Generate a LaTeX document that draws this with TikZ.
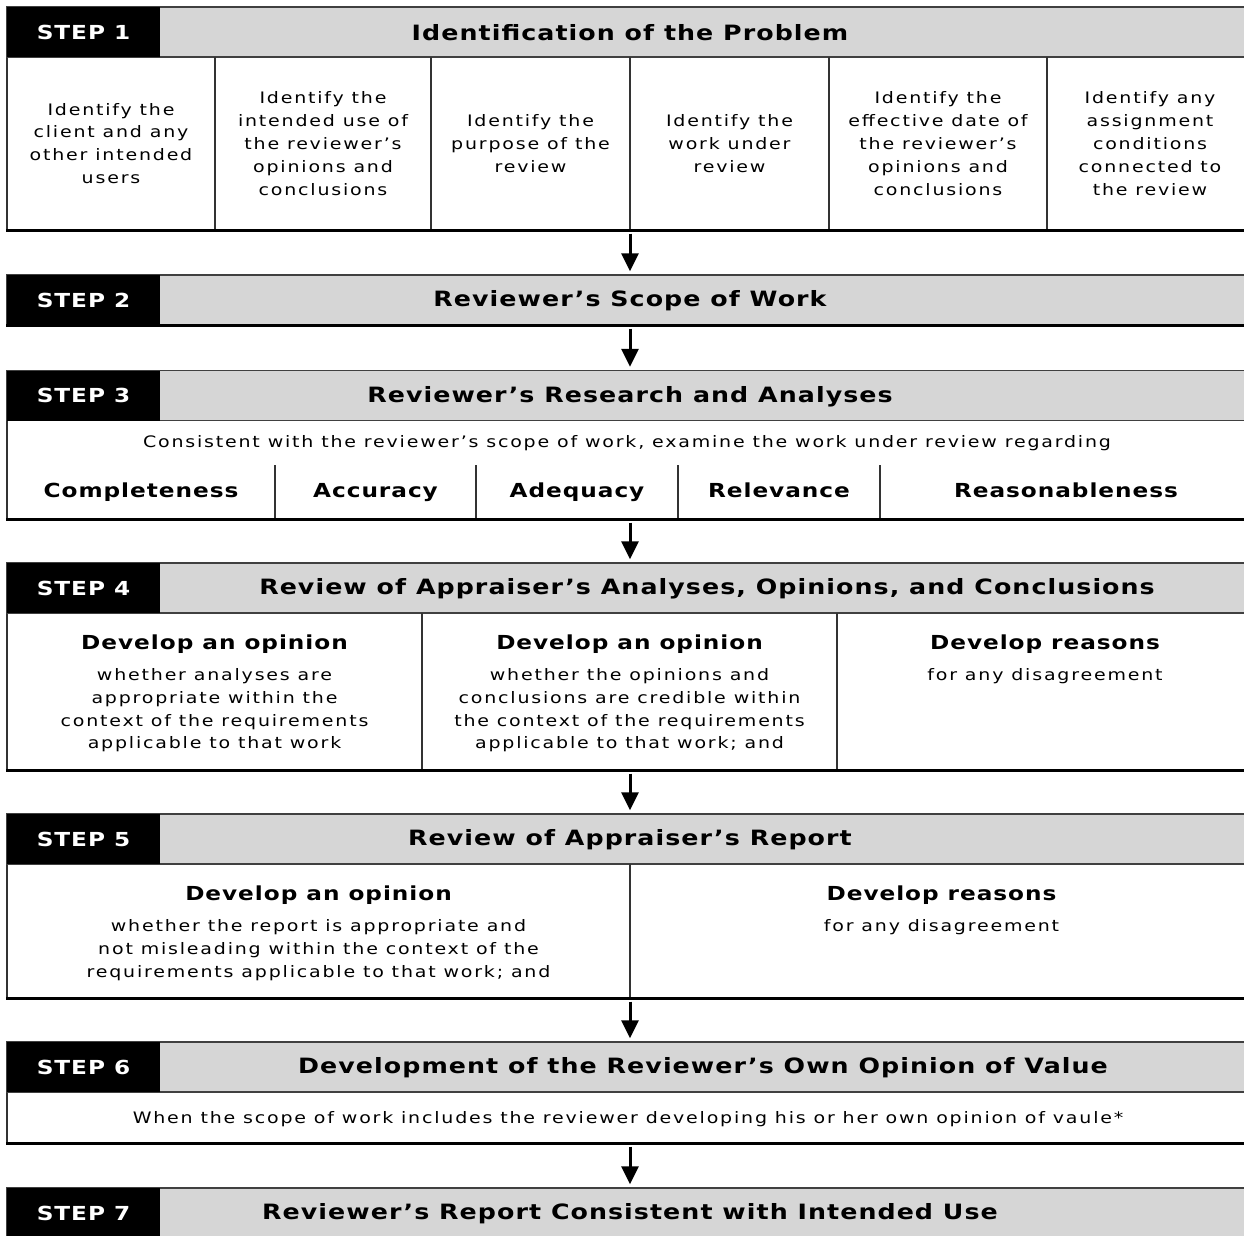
\documentclass[tikz,border=0pt]{standalone}
\usepackage{fontspec}
\setmainfont{DejaVu Sans}[FakeStretch=1.2, LetterSpace=11.5]
\newfontfamily\headfont{DejaVu Sans Bold}[FakeStretch=1.2, LetterSpace=5]
\usetikzlibrary{arrows.meta}
\definecolor{bargray}{HTML}{D6D6D6}
\newcommand{\px}{0.02cm}
\newcommand{\stephead}[4]{%
  \node[headbar] (h#1) at (630,#2) {};
  \node[stepbox] (s#1) at (83.5,#2) {STEP #1};
  \node[titletext] (t#1) at (#4,#2) {#3};}

\begin{document}
\begin{tikzpicture}[x=0.02cm, y=-0.02cm,
    headbar/.style={fill=bargray, draw=black!75, line width=0.8pt, inner sep=0pt,
      minimum width=1246*\px, minimum height=50*\px},
    stepbox/.style={fill=black, text=white, inner sep=0pt,
      minimum width=153*\px, minimum height=50*\px, font=\headfont\fontsize{11}{12}\selectfont},
    titletext/.style={font=\headfont\fontsize{12}{13}\selectfont, inner sep=0pt, yshift=-0.02cm},
    bodybox/.style={draw=black!80, fill=white, line width=0.8pt, inner sep=0pt,
      minimum width=1246*\px},
    celltext/.style={align=center, inner sep=0pt, font=\fontsize{9}{13}\selectfont},
    boldtext/.style={inner sep=0pt, font=\headfont\fontsize{11}{13}\selectfont},
    divider/.style={draw=black!80, line width=0.8pt},
    rule/.style={line width=1.7pt},
    flow/.style={line width=1.7pt, shorten <=0.06cm, shorten >=0.06cm,
      -{Triangle[width=0.34cm, length=0.36cm]}}]
\useasboundingbox (0,0) rectangle (1244,1235);

% step 1
\node[bodybox, minimum height=173*\px] (b1) at (630,143.5) {};
\stephead{1}{32}{Identification of the Problem}{630}
\foreach \x in {215,431,630,829,1047} \draw[divider] (\x,57) -- (\x,230);
\draw[rule] (b1.south west) -- (b1.south east);
\node[celltext] (c11) at (111,143.5) {Identify the\\client and any\\other intended\\users};
\node[celltext] (c12) at (323,143.5) {Identify the\\intended use of\\the reviewer’s\\opinions and\\conclusions};
\node[celltext] (c13) at (530.5,143.5) {Identify the\\purpose of the\\review};
\node[celltext] (c14) at (729.5,143.5) {Identify the\\work under\\review};
\node[celltext] (c15) at (938,143.5) {Identify the\\effective date of\\the reviewer’s\\opinions and\\conclusions};
\node[celltext] (c16) at (1150,143.5) {Identify any\\assignment\\conditions\\connected to\\the review};

% step 2
\stephead{2}{300}{Reviewer’s Scope of Work}{630}
\draw[rule] (h2.south west) -- (h2.south east);

% step 3
\node[bodybox, minimum height=99*\px] (b3) at (630,469.5) {};
\stephead{3}{395.5}{Reviewer’s Research and Analyses}{630}
\foreach \x in {275,476,678,880} \draw[divider] (\x,465) -- (\x,519);
\draw[rule] (b3.south west) -- (b3.south east);
\node[celltext] (c30) at (627,443) {Consistent with the reviewer’s scope of work, examine the work under review regarding};
\node[boldtext, anchor=base] (c31) at (141,497) {Completeness};
\node[boldtext, anchor=base] (c32) at (375.5,497) {Accuracy};
\node[boldtext, anchor=base] (c33) at (577,497) {Adequacy};
\node[boldtext, anchor=base] (c34) at (779,497) {Relevance};
\node[boldtext, anchor=base] (c35) at (1066,497) {Reasonableness};

% step 4
\node[bodybox, minimum height=157*\px] (b4) at (630,691.5) {};
\stephead{4}{588}{Review of Appraiser’s Analyses, Opinions, and Conclusions}{707}
\foreach \x in {422,837} \draw[divider] (\x,613) -- (\x,770);
\draw[rule] (b4.south west) -- (b4.south east);
\node[boldtext, anchor=base] (c41) at (214.5,649) {Develop an opinion};
\node[celltext, anchor=north] (d41) at (214.5,668) {whether analyses are\\appropriate within the\\context of the requirements\\applicable to that work};
\node[boldtext, anchor=base] (c42) at (629.5,649) {Develop an opinion};
\node[celltext, anchor=north] (d42) at (629.5,668) {whether the opinions and\\conclusions are credible within\\the context of the requirements\\applicable to that work; and};
\node[boldtext, anchor=base] (c43) at (1045,649) {Develop reasons};
\node[celltext, anchor=north] (d43) at (1045,668) {for any disagreement};

% step 5
\node[bodybox, minimum height=134*\px] (b5) at (630,931) {};
\stephead{5}{839}{Review of Appraiser’s Report}{630}
\draw[divider] (630,864) -- (630,998);
\draw[rule] (b5.south west) -- (b5.south east);
\node[boldtext, anchor=base] (c51) at (318.5,900) {Develop an opinion};
\node[celltext, anchor=north] (d51) at (318.5,919) {whether the report is appropriate and\\not misleading within the context of the\\requirements applicable to that work; and};
\node[boldtext, anchor=base] (c52) at (941.5,900) {Develop reasons};
\node[celltext, anchor=north] (d52) at (941.5,919) {for any disagreement};

% step 6
\node[bodybox, minimum height=51*\px] (b6) at (630,1117.5) {};
\stephead{6}{1067}{Development of the Reviewer’s Own Opinion of Value}{703}
\draw[rule] (b6.south west) -- (b6.south east);
\node[celltext] (c61) at (628,1119) {When the scope of work includes the reviewer developing his or her own opinion of vaule*};

% step 7
\stephead{7}{1213}{Reviewer’s Report Consistent with Intended Use}{630}

% arrows
\draw[flow] (b1) -- (h2);
\draw[flow] (h2) -- (h3);
\draw[flow] (b3) -- (h4);
\draw[flow] (b4) -- (h5);
\draw[flow] (b5) -- (h6);
\draw[flow] (b6) -- (h7);
\end{tikzpicture}
\end{document}
